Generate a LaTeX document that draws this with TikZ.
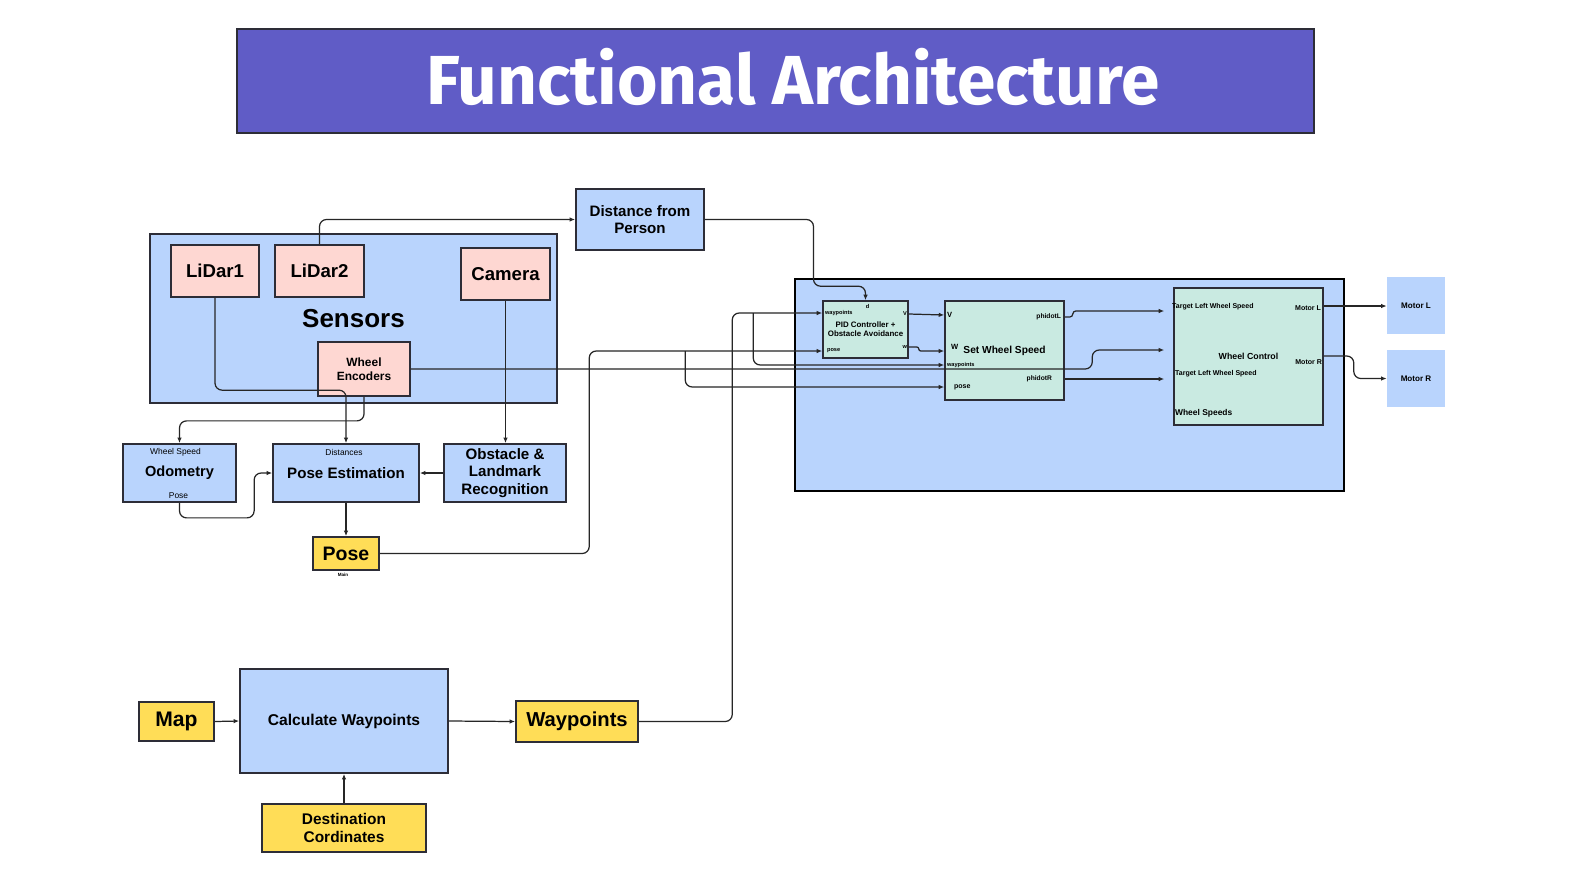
\documentclass[tikz,border=0pt]{standalone}
\usepackage{fontspec}
\setmainfont{Liberation Sans}
\newfontfamily\titlefont{Fira Sans}
\usepackage{tikz}
\usetikzlibrary{arrows.meta,calc,positioning}
\definecolor{titleblue}{RGB}{96,92,198}
\definecolor{skyblue}{RGB}{185,212,253}
\definecolor{sensorpink}{RGB}{254,215,210}
\definecolor{inputyellow}{RGB}{255,221,87}
\definecolor{ctrlmint}{RGB}{201,234,225}
\definecolor{edge}{RGB}{45,45,55}
\newcommand{\fsz}[1]{\fontsize{#1}{\dimexpr#1pt*23/20\relax}\selectfont}
\tikzset{
  box/.style={draw=edge,line width=1pt,fill=skyblue,align=center,inner sep=1pt,font=\bfseries},
  sensor/.style={box,fill=sensorpink},
  given/.style={box,fill=inputyellow},
  ctrl/.style={box,fill=ctrlmint,line width=0.9pt},
  motor/.style={fill=skyblue,align=center,inner sep=1pt,minimum width=1.16cm,minimum height=1.14cm,font=\bfseries\fsz{4.6}},
  port/.style={inner sep=0.3pt,font=\bfseries\fsz{3.2}},
  wclabel/.style={inner sep=0.3pt,font=\bfseries\fsz{4}},
  note/.style={inner sep=0.3pt,font=\fsz{4.8}},
  wire/.style={->,line width=0.7pt,draw=black!85,rounded corners=0.14cm},
}

\begin{document}
\begin{tikzpicture}[x=0.02cm,y=-0.02cm,>={Latex[length=1.1mm,width=0.9mm]}]
\path[fill=white] (0,0) rectangle (1571,883);
\node[box,fill=titleblue,minimum width=21.54cm,minimum height=2.08cm] (title) at (775.5,81) {};
\node[text=white,font=\titlefont\bfseries\fsz{39.5}] (titletext) at (793,77) {Functional Architecture};

\node[box,minimum width=8.14cm,minimum height=3.38cm,font=\bfseries\fsz{14.8}] (sensors) at (353.5,318.5) {Sensors};
\node[sensor,minimum width=1.76cm,minimum height=1.04cm,font=\bfseries\fsz{10.6}] (lidar1) at (215,271) {LiDar1};
\node[sensor,minimum width=1.78cm,minimum height=1.04cm,font=\bfseries\fsz{10.6}] (lidar2) at (319.5,271) {LiDar2};
\node[sensor,minimum width=1.78cm,minimum height=1.04cm,font=\bfseries\fsz{10.6}] (camera) at (505.5,274) {Camera};
\node[sensor,minimum width=1.84cm,minimum height=1.08cm,font=\bfseries\fsz{6.8}] (encoders) at (364,369) {Wheel\\Encoders};

\node[box,minimum width=2.56cm,minimum height=1.22cm,font=\bfseries\fsz{8.6}] (distance) at (640,219.5) {Distance from\\Person};
\node[box,minimum width=2.26cm,minimum height=1.16cm,font=\bfseries\fsz{8.3}] (odometry) at (179.5,473) {Odometry};
\node[box,minimum width=2.92cm,minimum height=1.16cm,font=\bfseries\fsz{8.6}] (poseest) at (346,473) {Pose Estimation};
\node[box,minimum width=2.44cm,minimum height=1.16cm,font=\bfseries\fontsize{8.6}{10}\selectfont] (obstacle) at (505,473) {Obstacle \&\\Landmark\\Recognition};
\node[given,minimum width=1.32cm,minimum height=0.66cm,font=\bfseries\fsz{11.1}] (pose) at (346,553.5) {Pose};
\node[note] (odospeed) at ($(odometry.north)+(-4,9.5)$) {Wheel Speed};
\node[note] (odopose) at ($(odometry.south)+(-1,-7)$) {Pose};
\node[note] (poseestdist) at ($(poseest.north)+(-2,9)$) {Distances};
\node[inner sep=0pt,font=\bfseries\fsz{2.6}] (posemain) at ($(pose.south)+(-3,4)$) {Main};

\node[given,minimum width=1.5cm,minimum height=0.78cm,font=\bfseries\fsz{12}] (map) at (176.5,721.5) {Map};
\node[box,minimum width=4.16cm,minimum height=2.08cm,font=\bfseries\fsz{8.9}] (waypointcalc) at (344,721) {Calculate Waypoints};
\node[given,minimum width=2.44cm,minimum height=0.82cm,font=\bfseries\fsz{11.5}] (waypoints) at (577,721.5) {Waypoints};
\node[given,minimum width=3.28cm,minimum height=0.96cm,font=\bfseries\fontsize{8.8}{10}\selectfont] (destination) at (344,828) {Destination\\Cordinates};

\node[box,draw=black,line width=1.4pt,minimum width=10.98cm,minimum height=4.24cm] (controller) at (1069.5,385) {};
\node[ctrl,minimum width=1.7cm,minimum height=1.14cm,font=\bfseries\fsz{4.5}] (pid) at (865.5,329.5) {PID Controller +\\Obstacle Avoidance};
\node[ctrl,minimum width=2.38cm,minimum height=1.98cm,font=\bfseries\fsz{5.8}] (setspeed) at (1004.5,350.5) {Set Wheel Speed};
\node[ctrl,minimum width=2.98cm,minimum height=2.74cm,font=\bfseries\fsz{5}] (wheelctrl) at (1248.5,356.5) {Wheel Control};
\node[motor] (motorL) at (1416,305.5) {Motor L};
\node[motor] (motorR) at (1416,378.5) {Motor R};

\coordinate (pidway) at ($(pid.west)+(0,-16.5)$);
\coordinate (pidpose) at ($(pid.west)+(0,21.5)$);
\coordinate (pidv) at ($(pid.east)+(0,-15.5)$);
\coordinate (pidw) at ($(pid.east)+(0,17.5)$);
\coordinate (swsv) at ($(setspeed.west)+(0,-35.5)$);
\coordinate (swsw) at ($(setspeed.west)+(0,0.5)$);
\coordinate (swsway) at ($(setspeed.west)+(0,14.5)$);
\coordinate (swspose) at ($(setspeed.west)+(0,36.5)$);
\coordinate (swsl) at ($(setspeed.east)+(0,-33.5)$);
\coordinate (swsr) at ($(setspeed.east)+(0,28.5)$);
\coordinate (wcinl) at ($(wheelctrl.west)+(-9,-45.5)$);
\coordinate (wcinm) at ($(wheelctrl.west)+(-9,-6.5)$);
\coordinate (wcinr) at ($(wheelctrl.west)+(-9,22.5)$);
\coordinate (wcoutl) at ($(wheelctrl.east)+(0,-50.5)$);
\coordinate (wcoutr) at ($(wheelctrl.east)+(0,-0.5)$);

\node[port] (pidd) at ($(pid.north)+(2,6)$) {d};
\node[port,anchor=west] (pidwaylabel) at ($(pidway)+(2,0)$) {waypoints};
\node[port,anchor=west] (pidposelabel) at ($(pidpose)+(4,0)$) {pose};
\node[port,anchor=east] (pidvlabel) at ($(pidv)+(-1,0)$) {V};
\node[port,anchor=east] (pidwlabel) at ($(pidw)+(-1,0)$) {w};
\node[port,font=\bfseries\fsz{4.3},anchor=west] (swsvlabel) at ($(swsv)+(2,0)$) {V};
\node[port,font=\bfseries\fsz{4.3},anchor=west] (swswlabel) at ($(setspeed.west)+(6,-4)$) {W};
\node[port,anchor=west] (swswaylabel) at ($(swsway)+(2,0)$) {waypoints};
\node[port,font=\bfseries\fsz{4},anchor=west] (swsposelabel) at ($(swspose)+(9,0)$) {pose};
\node[port,font=\bfseries\fsz{3.8},anchor=east] (swsllabel) at ($(swsl)+(-3,0)$) {phidotL};
\node[port,font=\bfseries\fsz{3.8},anchor=east] (swsrlabel) at ($(swsr)+(-12,0)$) {phidotR};
\node[wclabel,anchor=west] (wctarget1) at ($(wheelctrl.west)+(-2,-49.5)$) {Target Left Wheel Speed};
\node[wclabel,anchor=east] (wcmotorl) at ($(wcoutl)+(-2,2)$) {Motor L};
\node[wclabel,anchor=east] (wcmotorr) at ($(wcoutr)+(-1,6)$) {Motor R};
\node[wclabel,anchor=west] (wctarget2) at ($(wheelctrl.west)+(1,17.5)$) {Target Left Wheel Speed};
\node[wclabel,font=\bfseries\fsz{4.8},anchor=west] (wcspeeds) at ($(wheelctrl.west)+(1,56.5)$) {Wheel Speeds};

\draw[wire] (lidar2.north) |- (distance.west);
\draw[wire] (distance.east) -| ($(pid.north)+(-52,-14)$) -| (pid.north);
\draw[wire] (lidar1.south) |- ($(poseest.north)+(0,-53)$) -- (poseest.north);
\draw[wire] (encoders.south) -- ++(0,24) -| (odometry.north);
\draw[wire] (camera.south) -- (camera.south |- obstacle.north);
\draw[wire] (obstacle.west) -- (poseest.east);
\draw[wire] (odometry.south) -- ++(0,15) -| ($(poseest.west)+(-18,0)$) -- (poseest.west);
\draw[wire] (poseest.south) -- (pose.north);
\draw[wire] (pose.east) -| ($(pidpose)+(-233,0)$) -- (pidpose);
\draw[wire] ($(pidpose)+(-137,0)$) |- (swspose);
\draw[wire] (waypoints.east) -| ($(pidway)+(-90,0)$) -- (pidway);
\draw[wire] ($(pidway)+(-69,0)$) |- (swsway);
\draw[wire] (encoders.east) -| ($(wcinm)+(-72,0)$) -- (wcinm);
\draw[wire] (pidv) -- (swsv);
\draw[wire,rounded corners=0.04cm] (pidw) -- ++(10,0) |- (swsw);
\draw[wire,rounded corners=0.06cm] (swsl) -- ++(8,0) |- (wcinl);
\draw[wire] (swsr) -- (wcinr);
\draw[wire] (wcoutl) -- (wcoutl -| motorL.west);
\draw[wire] (wcoutr) -- ++(30,0) |- (motorR.west);
\draw[wire] (map.east) -- (waypointcalc.west);
\draw[wire] (waypointcalc.east) -- (waypoints.west);
\draw[wire] (destination.north) -- (waypointcalc.south);
\end{tikzpicture}
\end{document}
